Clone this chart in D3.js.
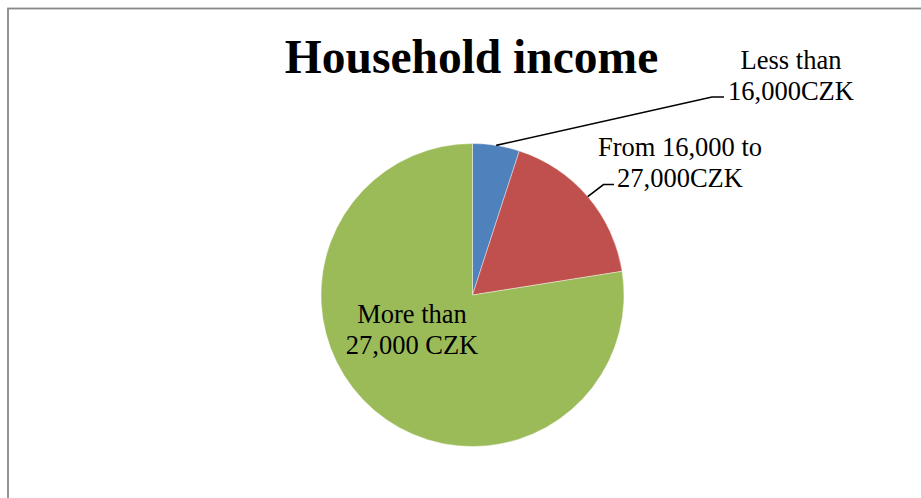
<!DOCTYPE html>
<html>
<head>
<meta charset="utf-8">
<script src="https://cdn.jsdelivr.net/npm/d3@7"></script>
<style>
  html, body { margin: 0; padding: 0; background: #fff; }
  svg { display: block; }
  text { font-family: "Liberation Serif", "Times New Roman", serif; fill: #000; }
</style>
</head>
<body>
<svg id="chart" width="921" height="498"></svg>
<script>
// Share of households by monthly income band (percent)
const categories = ["Less than|16,000CZK", "From 16,000 to|27,000CZK", "More than|27,000 CZK"];
const shares = [5, 17.5, 77.5];
const colors = ["#4F81BD", "#C0504D", "#9BBB59"];
const title = "Household income";

const svg = d3.select("#chart");
const W = 921, H = 498;

// chart area frame (runs off the right and bottom edges)
svg.append("rect")
  .attr("x", 8).attr("y", 8.5)
  .attr("width", W + 20).attr("height", H + 20)
  .attr("fill", "#fff")
  .attr("stroke", "#888").attr("stroke-width", 1.8);

svg.append("text")
  .attr("x", 471.5).attr("y", 73)
  .attr("text-anchor", "middle")
  .attr("font-size", 47.5)
  .attr("font-weight", "bold")
  .text(title);

const cx = 472.5, cy = 295, R = 151.5;
const data = categories.map((c, i) => ({ label: c, value: shares[i], color: colors[i] }));

const pie = d3.pie().value(d => d.value).sort(null);
const arc = d3.arc().innerRadius(0).outerRadius(R);
const arcs = pie(data);

const g = svg.append("g").attr("transform", `translate(${cx},${cy})`);
g.selectAll("path")
  .data(arcs)
  .join("path")
  .attr("d", arc)
  .attr("fill", d => d.data.color)
  .attr("stroke", "#fff")
  .attr("stroke-width", 0.4);

// label placement: [text x (center), first baseline y, leader elbow x, elbow y, leader end x] ; null = inside
const labelPos = [
  { x: 791, y: 69, elbow: [712, 97], end: 724 },
  { x: 680, y: 156, elbow: [603.5, 184.5], end: 614 },
  { x: 412, y: 323, elbow: null }
];
const lineGap = 31;

arcs.forEach((a, i) => {
  const p = labelPos[i];
  const mid = (a.startAngle + a.endAngle) / 2;
  if (p.elbow) {
    const sx = cx + R * Math.sin(mid), sy = cy - R * Math.cos(mid);
    svg.append("polyline")
      .attr("points", [[sx, sy], p.elbow, [p.end, p.elbow[1]]].map(q => q.join(",")).join(" "))
      .attr("fill", "none")
      .attr("stroke", "#000")
      .attr("stroke-width", 1.6);
  }
  const t = svg.append("text")
    .attr("text-anchor", "middle")
    .attr("font-size", 26.5);
  a.data.label.split("|").forEach((line, k) => {
    t.append("tspan").attr("x", p.x).attr("y", p.y + k * lineGap).text(line);
  });
});
</script>
</body>
</html>
